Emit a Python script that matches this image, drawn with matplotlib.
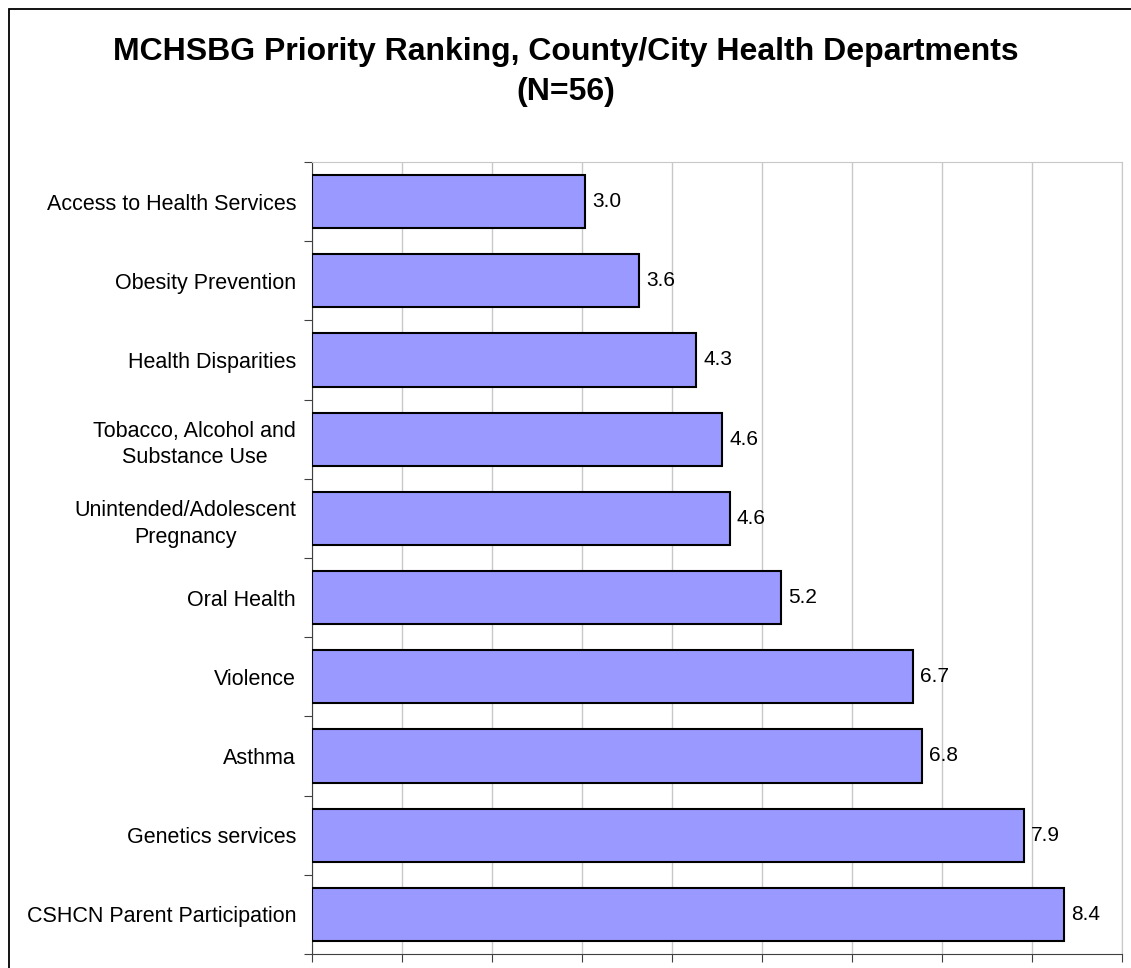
import matplotlib.pyplot as plt
from matplotlib.patches import Rectangle

categorias = [
    'Access to Health Services',
    'Obesity Prevention',
    'Health Disparities',
    'Tobacco, Alcohol and\nSubstance Use',
    'Unintended/Adolescent\nPregnancy',
    'Oral Health',
    'Violence',
    'Asthma',
    'Genetics services',
    'CSHCN Parent Participation',
]
valores = [3.03, 3.63, 4.27, 4.56, 4.64, 5.21, 6.68, 6.78, 7.91, 8.36]
titulo = 'MCHSBG Priority Ranking, County/City Health Departments\n(N=56)'

plt.rcParams['font.family'] = ['Liberation Sans', 'DejaVu Sans']

fig = plt.figure(figsize=(11.31, 9.68), dpi=100)
ax = fig.add_axes([312 / 1131, 1 - 954 / 968, 810 / 1131, 792 / 968])

n = len(categorias)
posiciones = list(range(n))
ax.barh(posiciones, valores, height=0.67, color='#9999FF', edgecolor='black', linewidth=1.5, zorder=3)

for p, v in zip(posiciones, valores):
    ax.text(v + 0.08, p, f'{v:.1f}', va='center', ha='left', fontsize=15)

ax.set_xlim(0, 9)
ax.set_ylim(n - 0.5, -0.5)
ax.set_xticks(range(10))
ax.tick_params(axis='x', direction='out', length=6, labelbottom=False, color='#404040')

ax.set_yticks([i - 0.5 for i in range(n + 1)])
ax.set_yticklabels([])
ax.tick_params(axis='y', which='major', direction='out', length=6, color='#404040')
ax.set_yticks(posiciones, minor=True)
ax.set_yticklabels(categorias, minor=True, multialignment='center', fontsize=15.5, linespacing=1.35)
ax.tick_params(axis='y', which='minor', length=0, pad=11.5)

ax.grid(axis='x', color='#c8c8c8', linewidth=1, zorder=0)
ax.grid(axis='y', visible=False)
ax.spines['top'].set_color('#c8c8c8')
ax.spines['right'].set_color('#c8c8c8')
ax.spines['left'].set_color('#404040')
ax.spines['bottom'].set_color('#404040')

fig.text(0.5, 1 - 72 / 968, titulo, ha='center', va='center', fontsize=23,
         fontweight='bold', linespacing=1.4)

marco = Rectangle((9 / 1131, -0.1), 2, 1.1 - 9 / 968, transform=fig.transFigure,
                  fill=False, edgecolor='black', linewidth=1.3)
fig.patches.append(marco)

fig.savefig('out.png', dpi=100)
